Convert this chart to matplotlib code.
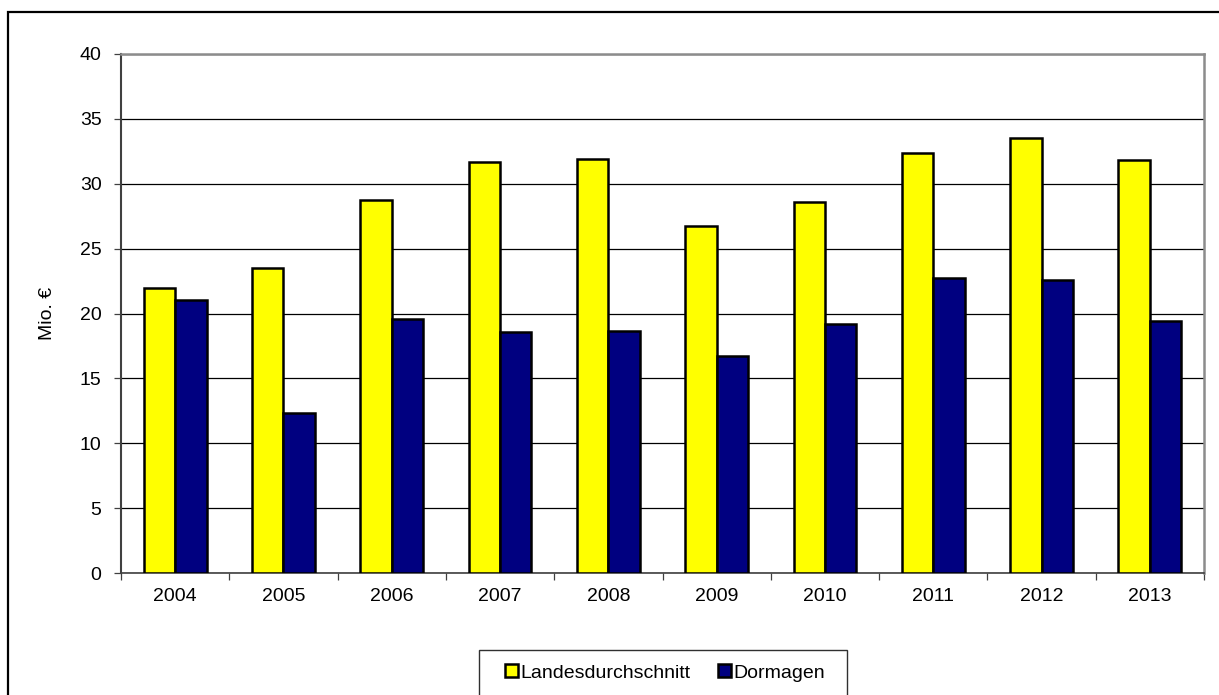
import numpy as np
import matplotlib.pyplot as plt
from matplotlib.patches import Rectangle

plt.rcParams['font.family'] = ['Liberation Sans', 'DejaVu Sans']

years = ['2004', '2005', '2006', '2007', '2008', '2009', '2010', '2011', '2012', '2013']
landesdurchschnitt = [22.0, 23.5, 28.75, 31.7, 31.9, 26.75, 28.6, 32.4, 33.55, 31.8]
dormagen = [21.05, 12.35, 19.55, 18.6, 18.65, 16.7, 19.2, 22.75, 22.6, 19.45]

fig = plt.figure(figsize=(12.19, 6.95), dpi=100)
ax = fig.add_axes([121 / 1219, 1 - 573 / 695, (1204 - 121) / 1219, (573 - 54) / 695])

x = np.arange(len(years))
w = 0.29
ax.bar(x - w / 2, landesdurchschnitt, w, color='#ffff00', edgecolor='black',
       linewidth=1.8, label='Landesdurchschnitt', zorder=3)
ax.bar(x + w / 2, dormagen, w, color='#000080', edgecolor='black',
       linewidth=1.8, label='Dormagen', zorder=3)

ax.set_xlim(-0.5, len(years) - 0.5)
ax.set_ylim(0, 40)
ax.set_yticks(np.arange(0, 41, 5))
ax.yaxis.grid(True, color='black', linewidth=0.9, zorder=0)
ax.set_axisbelow(True)

ax.set_xticks(x)
ax.set_xticklabels(years)
ax.set_xticks(np.arange(-0.5, len(years), 1), minor=True)
ax.tick_params(axis='x', which='major', length=0, pad=11, labelsize=14)
ax.tick_params(axis='x', which='minor', length=5, width=0.9, color='#404040')
ax.tick_params(axis='y', length=5, width=0.9, color='#404040', pad=9, labelsize=14)

ax.spines['left'].set_color('#404040')
ax.spines['left'].set_linewidth(1.5)
ax.spines['bottom'].set_color('#404040')
ax.spines['bottom'].set_linewidth(1.2)
for side in ('top', 'right'):
    ax.spines[side].set_color('#8c8c8c')
    ax.spines[side].set_linewidth(1.8)

fig.text(48 / 1219, 1 - 313 / 695, 'Mio. €', rotation=90, fontsize=14,
         ha='center', va='center')

# outer chart frame and legend box run past the image edges
fig.add_artist(Rectangle((8 / 1219, -0.1), 1.2, 1 - 12 / 695 + 0.1,
                         transform=fig.transFigure, fill=False,
                         edgecolor='black', linewidth=1.6))
fig.add_artist(Rectangle((479 / 1219, -0.1), (847 - 479) / 1219, 0.1 + 1 - 650 / 695,
                         transform=fig.transFigure, fill=False,
                         edgecolor='#303030', linewidth=1.0))

fig.legend(loc='center', bbox_to_anchor=(665 / 1219, 1 - 673 / 695), ncol=2,
           frameon=False, fontsize=14, handlelength=0.65, handleheight=0.65,
           handletextpad=0.15, columnspacing=1.4, borderpad=0)

fig.savefig('out.png', dpi=100)
